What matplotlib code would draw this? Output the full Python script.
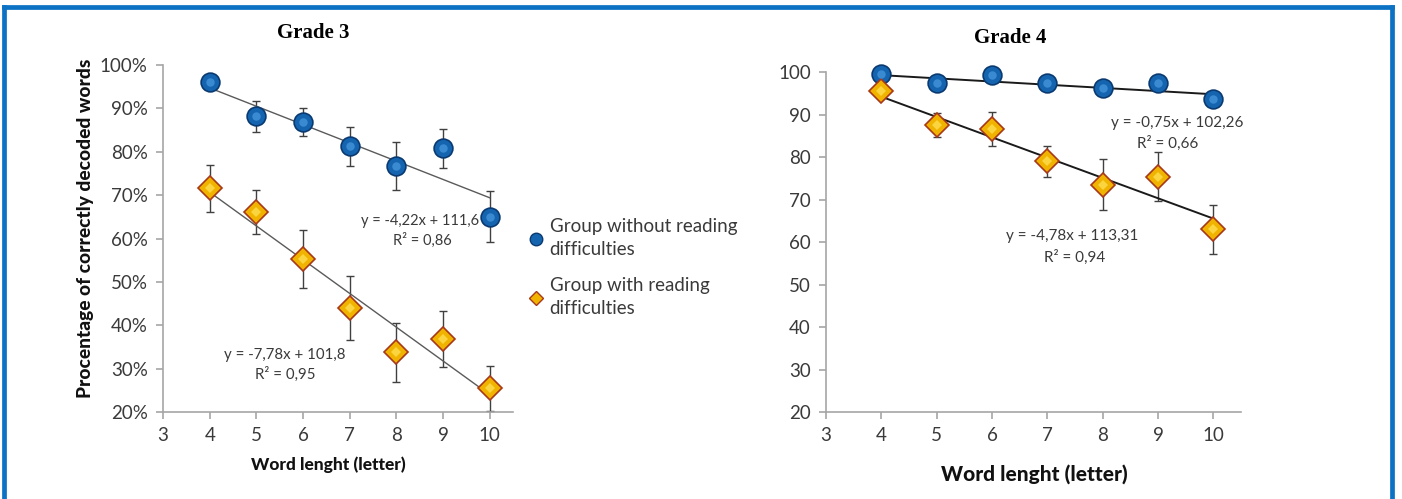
import matplotlib
matplotlib.use("Agg")
import matplotlib.pyplot as plt
from matplotlib.lines import Line2D
from matplotlib.ticker import FuncFormatter

plt.rcParams["font.family"] = ["Lato", "DejaVu Sans"]

# word length in letters
word_length = [4, 5, 6, 7, 8, 9, 10]

# grade 3, percentage of correctly decoded words
g3_without = [96.0, 88.2, 86.8, 81.3, 76.7, 80.8, 65.0]
g3_without_err = [1.5, 3.6, 3.2, 4.5, 5.5, 4.5, 5.9]
g3_with = [71.6, 66.1, 55.3, 44.0, 33.8, 36.8, 25.5]
g3_with_err = [5.4, 5.0, 6.7, 7.3, 6.8, 6.5, 5.2]

# grade 4
g4_without = [99.6, 97.5, 99.2, 97.3, 96.2, 97.3, 93.7]
g4_without_err = [0.8, 0.8, 0.8, 0.8, 0.8, 0.8, 0.8]
g4_with = [95.6, 87.6, 86.5, 79.0, 73.5, 75.4, 63.0]
g4_with_err = [1.0, 2.8, 4.0, 3.6, 6.0, 5.8, 5.8]

# linear trend coefficients (slope, intercept, r2)
g3_without_fit = (-4.22, 111.6, 0.86)
g3_with_fit = (-7.78, 101.8, 0.95)
g4_without_fit = (-0.75, 102.26, 0.66)
g4_with_fit = (-4.78, 113.31, 0.94)

labels = ["Group without reading\ndifficulties", "Group with reading\ndifficulties"]
y_ticks = [20, 30, 40, 50, 60, 70, 80, 90, 100]
x_ticks = [3, 4, 5, 6, 7, 8, 9, 10]

BLUE = "#1564B0"
BLUE_EDGE = "#0A3A70"
BLUE_HI = "#4A9BE0"
GOLD = "#F0B400"
GOLD_EDGE = "#A8381A"
GOLD_HI = "#FFE45C"
FRAME = "#0B72C4"
SPINE = "#A6A6A6"
TEXT = "#3A3A3A"


def eq_text(fit):
    slope, intercept, _ = fit
    s = f"{slope:g}".replace(".", ",")
    i = f"{intercept:g}".replace(".", ",")
    return f"y = {s}x + {i}"


def r2_text(fit):
    return "R² = " + f"{fit[2]:.2f}".replace(".", ",")


def draw_series(ax, ys, err, kind):
    if kind == "circle":
        marker, size, face, edge, hi = "o", 13.5, BLUE, BLUE_EDGE, BLUE_HI
    else:
        marker, size, face, edge, hi = "D", 12, GOLD, GOLD_EDGE, GOLD_HI
    ax.errorbar(word_length, ys, yerr=err, fmt="none", ecolor="#404040",
                elinewidth=1, capsize=3, capthick=1, zorder=2)
    ax.plot(word_length, ys, linestyle="none", marker=marker, markersize=size,
            markerfacecolor=face, markeredgecolor=edge, markeredgewidth=1.2,
            zorder=4, clip_on=False)
    ax.plot(word_length, ys, linestyle="none", marker=marker, markersize=size * 0.45,
            markerfacecolor=hi, markeredgewidth=0, alpha=0.7, zorder=5, clip_on=False)


def draw_trend(ax, fit, color, lw):
    slope, intercept, _ = fit
    xs = [word_length[0], word_length[-1]]
    ax.plot(xs, [slope * x + intercept for x in xs], color=color, lw=lw, zorder=3)


def style_axes(ax, percent):
    ax.set_xlim(3, 10.5)
    ax.set_ylim(20, 100)
    ax.set_xticks(x_ticks)
    ax.set_yticks(y_ticks)
    for side in ("top", "right"):
        ax.spines[side].set_visible(False)
    for side in ("left", "bottom"):
        ax.spines[side].set_color(SPINE)
        ax.spines[side].set_linewidth(1.2)
    ax.tick_params(axis="both", direction="out", length=5, width=1.2,
                   color=SPINE, labelsize=13.5, labelcolor=TEXT, pad=6)
    if percent:
        ax.yaxis.set_major_formatter(FuncFormatter(lambda v, _: f"{v:.0f}%"))
    ax.patch.set_alpha(0)


def note(ax, x, y, s, size=11):
    ax.text(x, y, s, ha="center", va="center", fontsize=size, color=TEXT, zorder=6)


fig = plt.figure(figsize=(14.02, 4.99), dpi=100)

ax3 = fig.add_axes([0.1163, 0.1743, 0.2496, 0.6954])
ax4 = fig.add_axes([0.5892, 0.1743, 0.2960, 0.6814])

# grade 3
draw_trend(ax3, g3_without_fit, "#5A5A5A", 1.0)
draw_trend(ax3, g3_with_fit, "#5A5A5A", 1.0)
draw_series(ax3, g3_without, g3_without_err, "circle")
draw_series(ax3, g3_with, g3_with_err, "diamond")
style_axes(ax3, percent=True)
note(ax3, 8.50, 64.0, eq_text(g3_without_fit), 10.5)
note(ax3, 8.55, 59.6, r2_text(g3_without_fit), 10.5)
note(ax3, 5.61, 33.1, eq_text(g3_with_fit), 10.8)
note(ax3, 5.61, 28.8, r2_text(g3_with_fit), 10.8)

# grade 4
draw_trend(ax4, g4_without_fit, "#1A1A1A", 1.4)
draw_trend(ax4, g4_with_fit, "#1A1A1A", 1.4)
draw_series(ax4, g4_without, g4_without_err, "circle")
draw_series(ax4, g4_with, g4_with_err, "diamond")
style_axes(ax4, percent=False)
note(ax4, 9.35, 87.9, eq_text(g4_without_fit))
note(ax4, 9.18, 83.2, r2_text(g4_without_fit))
note(ax4, 7.45, 61.3, eq_text(g4_with_fit))
note(ax4, 7.50, 56.3, r2_text(g4_with_fit))

# titles and axis labels
fig.text(313 / 1402, 1 - 33 / 499, "Grade 3", ha="center", va="center",
         fontsize=15, fontweight="bold", family="Liberation Serif")
fig.text(1010 / 1402, 1 - 38 / 499, "Grade 4", ha="center", va="center",
         fontsize=15, fontweight="bold", family="Liberation Serif")
fig.text(86 / 1402, 1 - 228 / 499, "Procentage of correctly decoded words", rotation=90,
         ha="center", va="center", fontsize=13.8, fontweight="black", color="#111111")
fig.text(328 / 1402, 1 - 465 / 499, "Word lenght (letter)", ha="center", va="center",
         fontsize=12.5, fontweight="black", color="#111111")
fig.text(1034 / 1402, 1 - 474 / 499, "Word lenght (letter)", ha="center", va="center",
         fontsize=15, fontweight="black", color="#111111")

# legend
handles = [
    Line2D([], [], linestyle="none", marker="o", markersize=9, markerfacecolor=BLUE,
           markeredgecolor=BLUE_EDGE),
    Line2D([], [], linestyle="none", marker="D", markersize=7, markerfacecolor=GOLD,
           markeredgecolor=GOLD_EDGE),
]
leg = fig.legend(handles, labels, loc="upper left", bbox_to_anchor=(528 / 1402, 1 - 218 / 499),
                 frameon=False, fontsize=13.5, handlelength=0.8, handletextpad=0.35,
                 labelspacing=1.0, labelcolor=TEXT, borderpad=0, borderaxespad=0)
for t in leg.get_texts():
    t.set_linespacing(1.45)

# blue frame around the panel
frame_kw = dict(color=FRAME, lw=3.4, solid_capstyle="projecting", transform=fig.transFigure)
x_l, x_r, y_t = 3.5 / 1402, 1392 / 1402, 1 - 6.5 / 499
fig.add_artist(Line2D([x_l, x_l], [-0.05, y_t], **frame_kw))
fig.add_artist(Line2D([x_r, x_r], [-0.05, y_t], **frame_kw))
fig.add_artist(Line2D([x_l, x_r], [y_t, y_t], **frame_kw))

fig.savefig("out.png", dpi=100)
